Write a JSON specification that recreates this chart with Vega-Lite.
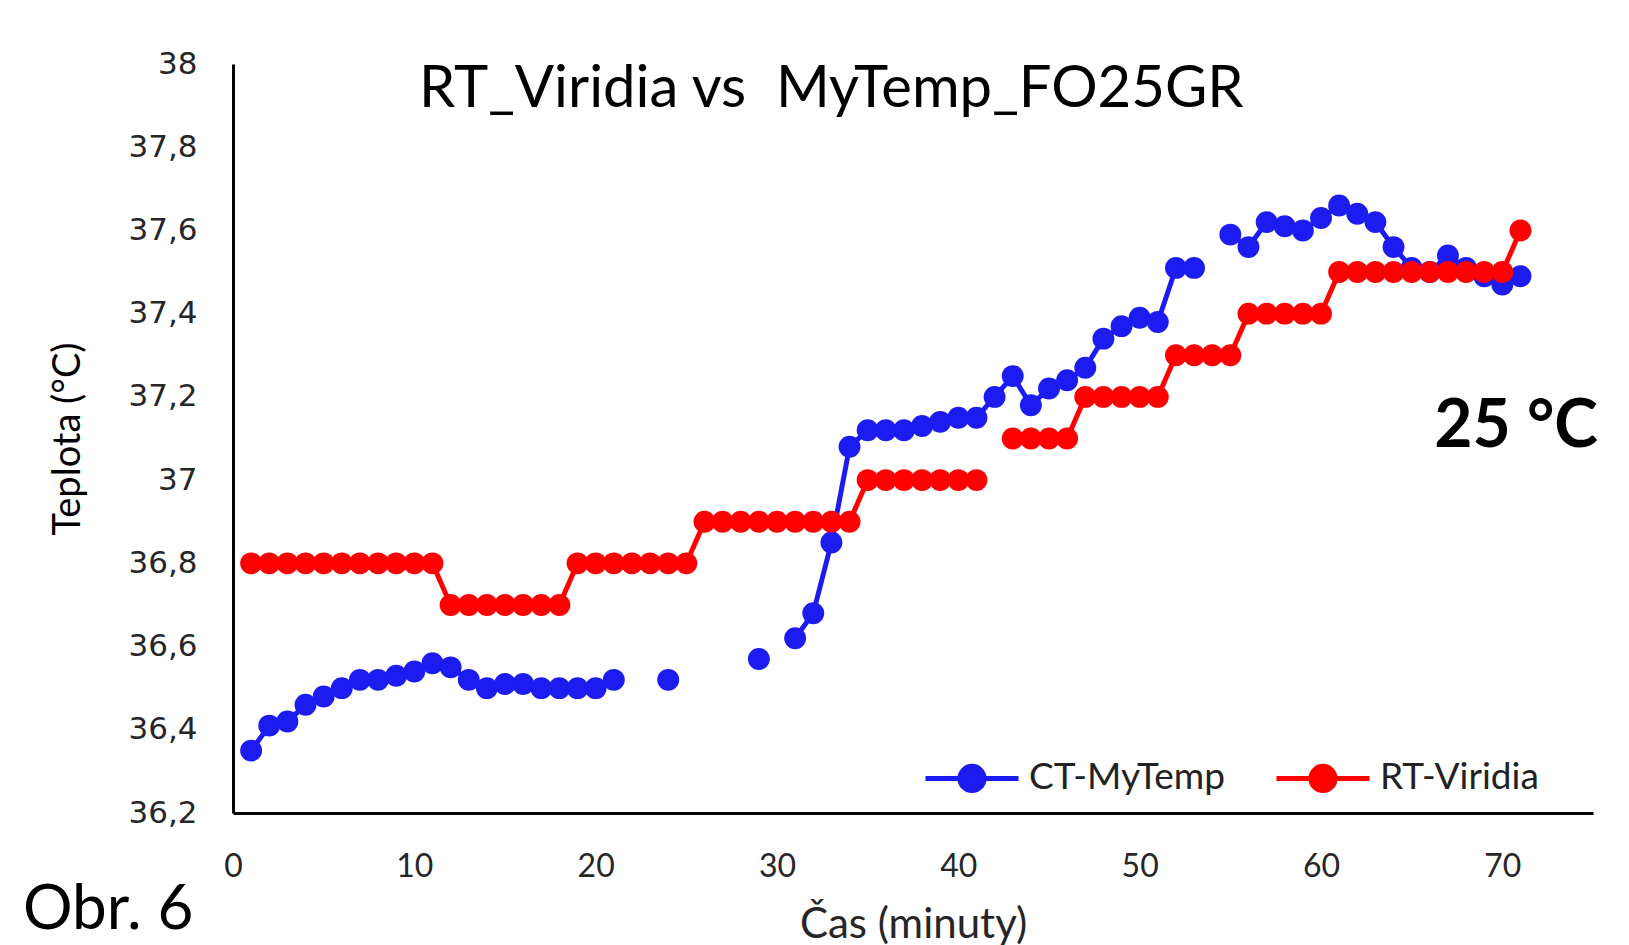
{
  "$schema": "https://vega.github.io/schema/vega-lite/v6.json",
  "autosize": {"type": "none"},
  "width": 1360,
  "height": 749,
  "padding": {"left": 233, "top": 64, "right": 36, "bottom": 132},
  "background": "white",
  "config": {"view": {"stroke": null}},
  "title": {
    "text": "RT_Viridia vs\u00a0\u00a0MyTemp_FO25GR",
    "anchor": "start",
    "frame": "group",
    "dx": 186,
    "dy": 121,
    "font": "Lato",
    "fontSize": 58,
    "fontWeight": "normal",
    "color": "#000000",
    "baseline": "alphabetic"
  },
  "data": {"values": [
    {"t":1,"series":"CT-MyTemp","temp":36.35},{"t":2,"series":"CT-MyTemp","temp":36.41},{"t":3,"series":"CT-MyTemp","temp":36.42},{"t":4,"series":"CT-MyTemp","temp":36.46},{"t":5,"series":"CT-MyTemp","temp":36.48},{"t":6,"series":"CT-MyTemp","temp":36.50},{"t":7,"series":"CT-MyTemp","temp":36.52},{"t":8,"series":"CT-MyTemp","temp":36.52},{"t":9,"series":"CT-MyTemp","temp":36.53},{"t":10,"series":"CT-MyTemp","temp":36.54},
    {"t":11,"series":"CT-MyTemp","temp":36.56},{"t":12,"series":"CT-MyTemp","temp":36.55},{"t":13,"series":"CT-MyTemp","temp":36.52},{"t":14,"series":"CT-MyTemp","temp":36.50},{"t":15,"series":"CT-MyTemp","temp":36.51},{"t":16,"series":"CT-MyTemp","temp":36.51},{"t":17,"series":"CT-MyTemp","temp":36.50},{"t":18,"series":"CT-MyTemp","temp":36.50},{"t":19,"series":"CT-MyTemp","temp":36.50},{"t":20,"series":"CT-MyTemp","temp":36.50},
    {"t":21,"series":"CT-MyTemp","temp":36.52},{"t":22,"series":"CT-MyTemp","temp":null},{"t":23,"series":"CT-MyTemp","temp":null},{"t":24,"series":"CT-MyTemp","temp":36.52},{"t":25,"series":"CT-MyTemp","temp":null},{"t":26,"series":"CT-MyTemp","temp":null},{"t":27,"series":"CT-MyTemp","temp":null},{"t":28,"series":"CT-MyTemp","temp":null},{"t":29,"series":"CT-MyTemp","temp":36.57},{"t":30,"series":"CT-MyTemp","temp":null},
    {"t":31,"series":"CT-MyTemp","temp":36.62},{"t":32,"series":"CT-MyTemp","temp":36.68},{"t":33,"series":"CT-MyTemp","temp":36.85},{"t":34,"series":"CT-MyTemp","temp":37.08},{"t":35,"series":"CT-MyTemp","temp":37.12},{"t":36,"series":"CT-MyTemp","temp":37.12},{"t":37,"series":"CT-MyTemp","temp":37.12},{"t":38,"series":"CT-MyTemp","temp":37.13},{"t":39,"series":"CT-MyTemp","temp":37.14},{"t":40,"series":"CT-MyTemp","temp":37.15},
    {"t":41,"series":"CT-MyTemp","temp":37.15},{"t":42,"series":"CT-MyTemp","temp":37.20},{"t":43,"series":"CT-MyTemp","temp":37.25},{"t":44,"series":"CT-MyTemp","temp":37.18},{"t":45,"series":"CT-MyTemp","temp":37.22},{"t":46,"series":"CT-MyTemp","temp":37.24},{"t":47,"series":"CT-MyTemp","temp":37.27},{"t":48,"series":"CT-MyTemp","temp":37.34},{"t":49,"series":"CT-MyTemp","temp":37.37},{"t":50,"series":"CT-MyTemp","temp":37.39},
    {"t":51,"series":"CT-MyTemp","temp":37.38},{"t":52,"series":"CT-MyTemp","temp":37.51},{"t":53,"series":"CT-MyTemp","temp":37.51},{"t":54,"series":"CT-MyTemp","temp":null},{"t":55,"series":"CT-MyTemp","temp":37.59},{"t":56,"series":"CT-MyTemp","temp":37.56},{"t":57,"series":"CT-MyTemp","temp":37.62},{"t":58,"series":"CT-MyTemp","temp":37.61},{"t":59,"series":"CT-MyTemp","temp":37.60},{"t":60,"series":"CT-MyTemp","temp":37.63},
    {"t":61,"series":"CT-MyTemp","temp":37.66},{"t":62,"series":"CT-MyTemp","temp":37.64},{"t":63,"series":"CT-MyTemp","temp":37.62},{"t":64,"series":"CT-MyTemp","temp":37.56},{"t":65,"series":"CT-MyTemp","temp":37.51},{"t":66,"series":"CT-MyTemp","temp":37.50},{"t":67,"series":"CT-MyTemp","temp":37.54},{"t":68,"series":"CT-MyTemp","temp":37.51},{"t":69,"series":"CT-MyTemp","temp":37.49},{"t":70,"series":"CT-MyTemp","temp":37.47},
    {"t":71,"series":"CT-MyTemp","temp":37.49},
    {"t":1,"series":"RT-Viridia","temp":36.8},{"t":2,"series":"RT-Viridia","temp":36.8},{"t":3,"series":"RT-Viridia","temp":36.8},{"t":4,"series":"RT-Viridia","temp":36.8},{"t":5,"series":"RT-Viridia","temp":36.8},{"t":6,"series":"RT-Viridia","temp":36.8},{"t":7,"series":"RT-Viridia","temp":36.8},{"t":8,"series":"RT-Viridia","temp":36.8},{"t":9,"series":"RT-Viridia","temp":36.8},{"t":10,"series":"RT-Viridia","temp":36.8},
    {"t":11,"series":"RT-Viridia","temp":36.8},{"t":12,"series":"RT-Viridia","temp":36.7},{"t":13,"series":"RT-Viridia","temp":36.7},{"t":14,"series":"RT-Viridia","temp":36.7},{"t":15,"series":"RT-Viridia","temp":36.7},{"t":16,"series":"RT-Viridia","temp":36.7},{"t":17,"series":"RT-Viridia","temp":36.7},{"t":18,"series":"RT-Viridia","temp":36.7},{"t":19,"series":"RT-Viridia","temp":36.8},{"t":20,"series":"RT-Viridia","temp":36.8},
    {"t":21,"series":"RT-Viridia","temp":36.8},{"t":22,"series":"RT-Viridia","temp":36.8},{"t":23,"series":"RT-Viridia","temp":36.8},{"t":24,"series":"RT-Viridia","temp":36.8},{"t":25,"series":"RT-Viridia","temp":36.8},{"t":26,"series":"RT-Viridia","temp":36.9},{"t":27,"series":"RT-Viridia","temp":36.9},{"t":28,"series":"RT-Viridia","temp":36.9},{"t":29,"series":"RT-Viridia","temp":36.9},{"t":30,"series":"RT-Viridia","temp":36.9},
    {"t":31,"series":"RT-Viridia","temp":36.9},{"t":32,"series":"RT-Viridia","temp":36.9},{"t":33,"series":"RT-Viridia","temp":36.9},{"t":34,"series":"RT-Viridia","temp":36.9},{"t":35,"series":"RT-Viridia","temp":37.0},{"t":36,"series":"RT-Viridia","temp":37.0},{"t":37,"series":"RT-Viridia","temp":37.0},{"t":38,"series":"RT-Viridia","temp":37.0},{"t":39,"series":"RT-Viridia","temp":37.0},{"t":40,"series":"RT-Viridia","temp":37.0},
    {"t":41,"series":"RT-Viridia","temp":37.0},{"t":42,"series":"RT-Viridia","temp":null},{"t":43,"series":"RT-Viridia","temp":37.1},{"t":44,"series":"RT-Viridia","temp":37.1},{"t":45,"series":"RT-Viridia","temp":37.1},{"t":46,"series":"RT-Viridia","temp":37.1},{"t":47,"series":"RT-Viridia","temp":37.2},{"t":48,"series":"RT-Viridia","temp":37.2},{"t":49,"series":"RT-Viridia","temp":37.2},{"t":50,"series":"RT-Viridia","temp":37.2},
    {"t":51,"series":"RT-Viridia","temp":37.2},{"t":52,"series":"RT-Viridia","temp":37.3},{"t":53,"series":"RT-Viridia","temp":37.3},{"t":54,"series":"RT-Viridia","temp":37.3},{"t":55,"series":"RT-Viridia","temp":37.3},{"t":56,"series":"RT-Viridia","temp":37.4},{"t":57,"series":"RT-Viridia","temp":37.4},{"t":58,"series":"RT-Viridia","temp":37.4},{"t":59,"series":"RT-Viridia","temp":37.4},{"t":60,"series":"RT-Viridia","temp":37.4},
    {"t":61,"series":"RT-Viridia","temp":37.5},{"t":62,"series":"RT-Viridia","temp":37.5},{"t":63,"series":"RT-Viridia","temp":37.5},{"t":64,"series":"RT-Viridia","temp":37.5},{"t":65,"series":"RT-Viridia","temp":37.5},{"t":66,"series":"RT-Viridia","temp":37.5},{"t":67,"series":"RT-Viridia","temp":37.5},{"t":68,"series":"RT-Viridia","temp":37.5},{"t":69,"series":"RT-Viridia","temp":37.5},{"t":70,"series":"RT-Viridia","temp":37.5},
    {"t":71,"series":"RT-Viridia","temp":37.6}
  ]},
  "layer": [
    {
      "encoding": {
        "x": {
          "field": "t", "type": "quantitative",
          "scale": {"domain": [0, 75], "nice": false, "zero": false},
          "axis": {
            "title": "Čas (minuty)",
            "values": [0, 10, 20, 30, 40, 50, 60, 70],
            "grid": false, "ticks": false,
            "domainColor": "#000000", "domainWidth": 3,
            "labelFont": "Lato", "labelFontSize": 32, "labelColor": "#262626", "labelPadding": 38,
            "labelFlush": false,
            "titleFont": "Lato", "titleFontSize": 42, "titleFontWeight": "normal", "titleColor": "#262626", "titlePadding": 22
          }
        },
        "y": {
          "field": "temp", "type": "quantitative",
          "scale": {"domain": [36.2, 38], "nice": false, "zero": false},
          "axis": {
            "title": "Teplota (°C)",
            "values": [36.2, 36.4, 36.6, 36.8, 37, 37.2, 37.4, 37.6, 37.8, 38],
            "labelExpr": "replace(format(datum.value, '.1~f'), '.', ',')",
            "grid": false, "ticks": false,
            "domainColor": "#000000", "domainWidth": 3,
            "labelFont": "DejaVu Sans", "labelFontSize": 31, "labelColor": "#262626", "labelPadding": 36,
            "labelFlush": false,
            "titleFont": "Lato", "titleFontSize": 38, "titleFontWeight": "normal", "titleColor": "#000000", "titlePadding": 40
          }
        },
        "color": {
          "field": "series", "type": "nominal",
          "scale": {"domain": ["CT-MyTemp", "RT-Viridia"], "range": ["#1c1cf0", "#ff0000"]},
          "legend": {
            "title": null,
            "orient": "none",
            "legendX": 690,
            "legendY": 665,
            "direction": "horizontal",
            "symbolType": "M-1,0L1,0M-0.26,0A0.26,0.26,0,1,1,0.26,0A0.26,0.26,0,1,1,-0.26,0Z",
            "symbolSize": 8649,
            "symbolStrokeWidth": 5,
            "labelFont": "Lato", "labelFontSize": 37, "labelColor": "#222222", "labelOffset": 8,
            "labelLimit": 500,
            "columnPadding": 41,
            "encode": {"symbols": {"update": {
              "fill": {"scale": "color", "field": "value"},
              "stroke": {"scale": "color", "field": "value"},
              "strokeWidth": {"value": 5},
              "opacity": {"value": 1}
            }}}
          }
        }
      },
      "layer": [
        {
          "transform": [{"filter": "datum.series === 'CT-MyTemp'"}],
          "mark": {"type": "line", "strokeWidth": 5, "point": {"filled": true, "size": 480, "opacity": 1}}
        },
        {
          "transform": [{"filter": "datum.series === 'RT-Viridia'"}],
          "mark": {"type": "line", "strokeWidth": 5, "point": {"filled": true, "size": 480, "opacity": 1}}
        }
      ]
    },
    {
      "data": {"values": [{"label": "25 °C"}]},
      "mark": {"type": "text", "font": "Lato", "fontSize": 66, "fontWeight": "bold", "fill": "#000000", "align": "right", "baseline": "alphabetic", "dx": 5, "dy": 0},
      "encoding": {
        "x": {"datum": 75, "type": "quantitative"},
        "y": {"datum": 37.08, "type": "quantitative"},
        "text": {"field": "label"}
      }
    },
    {
      "data": {"values": [{"label": "Obr. 6"}]},
      "mark": {"type": "text", "font": "Lato", "fontSize": 62, "fontWeight": "normal", "fill": "#000000", "align": "left", "baseline": "alphabetic", "dx": -210, "dy": 116},
      "encoding": {
        "x": {"datum": 0, "type": "quantitative"},
        "y": {"datum": 36.2, "type": "quantitative"},
        "text": {"field": "label"}
      }
    }
  ]
}
